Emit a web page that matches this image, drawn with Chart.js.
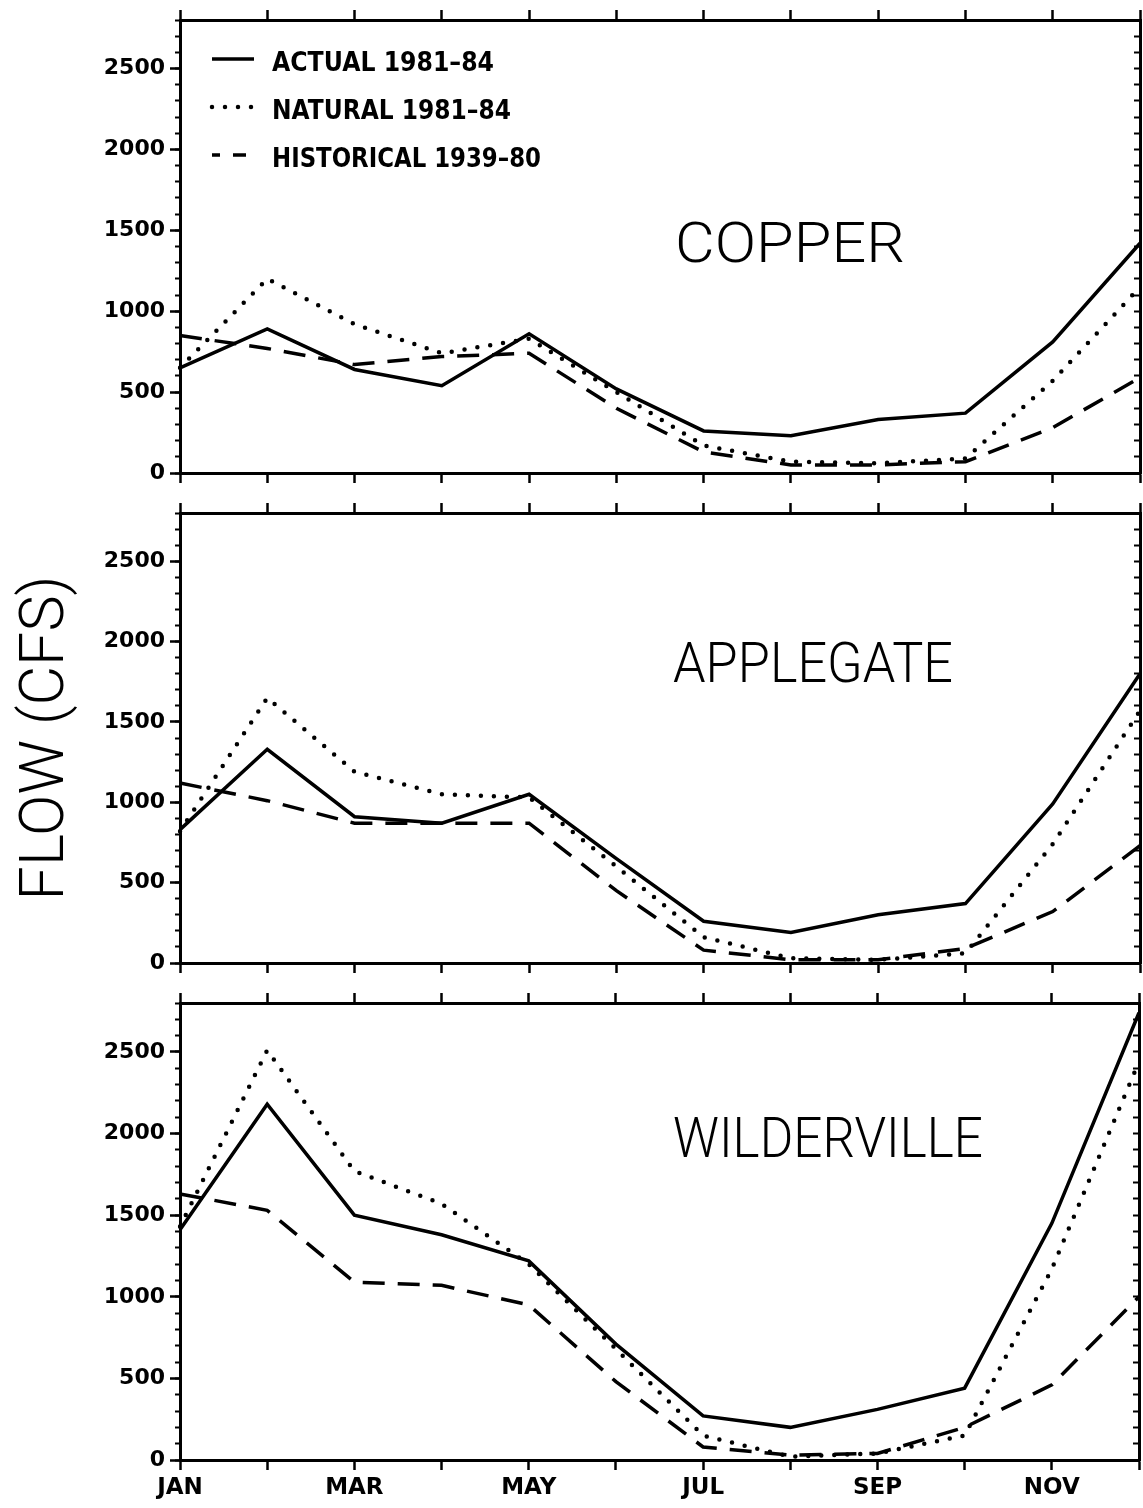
<!DOCTYPE html>
<html>
<head>
<meta charset="utf-8">
<script src="https://cdn.jsdelivr.net/npm/chart.js@4.4.1/dist/chart.umd.min.js"></script>
<style>
  html, body { margin: 0; padding: 0; background: #fff; }
  #wrap { position: relative; width: 1143px; height: 1508px; overflow: hidden; background: #fff; }
  #wrap canvas { position: absolute; left: 0; }
</style>
</head>
<body>
<div id="wrap">
  <canvas id="copper" width="1143" height="493" style="top:0px"></canvas>
  <canvas id="applegate" width="1143" height="490" style="top:493px"></canvas>
  <canvas id="wilderville" width="1143" height="525" style="top:983px"></canvas>
</div>
<script>
// month axis and value axis
const months = ['JAN', 'FEB', 'MAR', 'APR', 'MAY', 'JUN', 'JUL', 'AUG', 'SEP', 'OCT', 'NOV', 'DEC'];
const yMax = 2800;
const yTickValues = [0, 500, 1000, 1500, 2000, 2500];
const yMinorStep = 100;
const seriesLabels = ['ACTUAL 1981\u201384', 'NATURAL 1981\u201384', 'HISTORICAL 1939\u201380'];

// COPPER (cfs)
const copperActual     = [650, 890, 640, 540, 860, 520, 260, 230, 330, 370, 810, 1420];
const copperNatural    = [650, 1200, 920, 740, 830, 500, 170, 70, 60, 90, 570, 1150];
const copperHistorical = [850, 770, 670, 720, 740, 400, 130, 50, 50, 70, 280, 590];

// APPLEGATE (cfs)
const applegateActual     = [830, 1330, 910, 870, 1050, 650, 260, 190, 300, 370, 990, 1800];
const applegateNatural    = [820, 1650, 1190, 1050, 1030, 600, 160, 30, 20, 60, 740, 1570];
const applegateHistorical = [1120, 1010, 870, 870, 870, 450, 80, 20, 20, 90, 320, 730];

// WILDERVILLE (cfs)
const wildervilleActual     = [1410, 2180, 1500, 1380, 1220, 710, 270, 200, 310, 440, 1450, 2740];
const wildervilleNatural    = [1430, 2510, 1770, 1570, 1200, 680, 150, 20, 40, 150, 1170, 2440];
const wildervilleHistorical = [1630, 1530, 1090, 1070, 950, 480, 80, 30, 40, 200, 460, 1000];

const boldFont = '"DejaVu Sans", "Liberation Sans", sans-serif';
const thinFont = 'Roboto, "Open Sans", Lato, "Liberation Sans", sans-serif';

Chart.defaults.color = '#000';
Chart.defaults.font.family = boldFont;

// draw text with a given cap height, squeezed/stretched to a given width
function fitText(ctx, text, x, y, family, weight, cap, width) {
  ctx.font = weight + ' 100px ' + family;
  const h = ctx.measureText('H').actualBoundingBoxAscent || 72;
  ctx.font = weight + ' ' + (cap * 100 / h) + 'px ' + family;
  const w = ctx.measureText(text).width;
  ctx.save();
  ctx.translate(x, y);
  ctx.scale(width / w, 1);
  ctx.fillText(text, 0, 0);
  ctx.restore();
}

// station name and (top panel) legend
const panelDecor = {
  id: 'panelDecor',
  afterDraw(chart, args, opts) {
    const { ctx, chartArea: a } = chart;
    ctx.save();
    ctx.fillStyle = '#000';
    ctx.textAlign = 'left';
    ctx.textBaseline = 'alphabetic';
    fitText(ctx, opts.name, a.left + opts.nameX, a.top + opts.nameY, thinFont, 300, 39, opts.nameW);

    if (opts.legend) {
      chart.data.datasets.forEach((ds, i) => {
        const y = a.top + 39 + i * 48;
        ctx.save();
        ctx.strokeStyle = '#000';
        ctx.lineWidth = ds.borderWidth;
        ctx.lineCap = ds.borderCapStyle || 'butt';
        ctx.setLineDash(ds.borderDash || []);
        ctx.lineDashOffset = i === 2 ? 14 : 0;
        ctx.beginPath();
        ctx.moveTo(a.left + 32, y);
        ctx.lineTo(a.left + (i === 2 ? 66 : 74), y);
        ctx.stroke();
        ctx.restore();
        fitText(ctx, ds.label, a.left + 92, a.top + 50.5 + i * 48.3, boldFont, 'bold', 20, opts.legendW[i]);
      });
    }
    ctx.restore();
  }
};

function axisGrid(len, width) {
  return { drawOnChartArea: false, drawTicks: true, tickLength: len, tickWidth: width, color: '#000' };
}
const frameBorder = { display: true, width: 3, color: '#000' };

function makePanel(id, actual, natural, historical, cfg) {
  return new Chart(document.getElementById(id), {
    type: 'line',
    data: {
      labels: months,
      datasets: [
        { label: seriesLabels[0], data: actual, borderColor: '#000', borderWidth: 3.5, borderDash: [],
          pointRadius: 0, tension: 0, fill: false },
        { label: seriesLabels[1], data: natural, borderColor: '#000', borderWidth: 4.5, borderDash: [0, 13],
          borderCapStyle: 'round', pointRadius: 0, tension: 0, fill: false },
        { label: seriesLabels[2], data: historical, borderColor: '#000', borderWidth: 3.5, borderDash: [22, 13],
          pointRadius: 0, tension: 0, fill: false }
      ]
    },
    options: {
      responsive: false,
      animation: false,
      devicePixelRatio: 1,
      layout: { padding: 0 },
      plugins: {
        legend: { display: false },
        tooltip: { enabled: false },
        panelDecor: cfg.decor
      },
      scales: {
        x: {
          type: 'category',
          position: 'bottom',
          grid: axisGrid(10, 2.5),
          border: frameBorder,
          ticks: {
            display: cfg.monthLabels,
            autoSkip: false,
            maxRotation: 0,
            padding: 4,
            color: '#000',
            font: { family: boldFont, size: 23, weight: 'bold' },
            callback: (v, i) => (i % 2 === 0 ? months[i] : '')
          },
          afterFit: s => { s.height = cfg.bottomH; }
        },
        xTop: {
          type: 'category',
          position: 'top',
          grid: axisGrid(10, 2.5),
          border: frameBorder,
          ticks: { display: false },
          afterFit: s => { s.height = 20; }
        },
        yMinor: {
          type: 'linear',
          position: 'left',
          weight: 0,
          min: 0,
          max: yMax,
          grid: axisGrid(5, 2),
          border: frameBorder,
          ticks: { display: false, stepSize: yMinorStep },
          afterFit: s => { s.width = 0; }
        },
        y: {
          type: 'linear',
          position: 'left',
          weight: 10,
          min: 0,
          max: yMax,
          grid: axisGrid(10, 2.5),
          border: frameBorder,
          afterBuildTicks: s => { s.ticks = yTickValues.map(v => ({ value: v })); },
          ticks: {
            padding: 5,
            color: '#000',
            font: { family: boldFont, size: 22, weight: 'bold' },
            callback: v => String(v)
          },
          title: {
            display: cfg.yTitle,
            text: 'FLOW (CFS)',
            color: '#000',
            padding: { top: 11, bottom: 0 },
            font: { family: thinFont, size: 61, weight: 300 }
          },
          afterFit: s => { s.width = 180; }
        },
        yRight: {
          type: 'linear',
          position: 'right',
          min: 0,
          max: yMax,
          grid: axisGrid(-6, 2),
          border: frameBorder,
          ticks: { display: false, stepSize: yMinorStep },
          afterFit: s => { s.width = 3; }
        }
      }
    },
    plugins: [panelDecor]
  });
}

makePanel('copper', copperActual, copperNatural, copperHistorical, {
  monthLabels: false, bottomH: 20, yTitle: false,
  decor: { name: 'COPPER', nameX: 495, nameY: 242, nameW: 230, legend: true, legendW: [222, 239, 269] }
});
makePanel('applegate', applegateActual, applegateNatural, applegateHistorical, {
  monthLabels: false, bottomH: 20, yTitle: true,
  decor: { name: 'APPLEGATE', nameX: 493, nameY: 169, nameW: 280, legend: false }
});
makePanel('wilderville', wildervilleActual, wildervilleNatural, wildervilleHistorical, {
  monthLabels: true, bottomH: 48, yTitle: false,
  decor: { name: 'WILDERVILLE', nameX: 493, nameY: 154, nameW: 310, legend: false }
});
</script>
</body>
</html>
